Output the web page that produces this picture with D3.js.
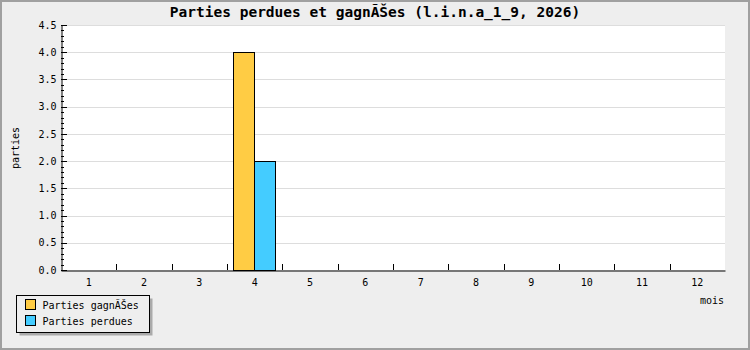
<!DOCTYPE html>
<html>
<head>
<meta charset="utf-8">
<script src="https://cdn.jsdelivr.net/npm/d3@7"></script>
<style>
  body { margin: 0; background: #fff; }
  text { font-family: "DejaVu Sans Mono", monospace; }
</style>
</head>
<body>
<svg id="chart" width="750" height="350"></svg>
<script>
const months = ["1", "2", "3", "4", "5", "6", "7", "8", "9", "10", "11", "12"];
const gagnees = [0, 0, 0, 4, 0, 0, 0, 0, 0, 0, 0, 0];
const perdues = [0, 0, 0, 2, 0, 0, 0, 0, 0, 0, 0, 0];
const yTicks = [0, 0.5, 1, 1.5, 2, 2.5, 3, 3.5, 4, 4.5];
const series = [
  { name: "Parties gagnÃŠes", values: gagnees, color: "#ffcc44" },
  { name: "Parties perdues", values: perdues, color: "#44ccff" }
];

const svg = d3.select("#chart");
const margin = { top: 25, right: 25, bottom: 80, left: 61 };
const W = 750, H = 350;

// background + frame
svg.append("rect").attr("width", W).attr("height", H).attr("fill", "#eeeeee");
svg.append("rect").attr("x", 1).attr("y", 1).attr("width", W - 2).attr("height", H - 2)
  .attr("fill", "none").attr("stroke", "#a0a0a0").attr("stroke-width", 2);

const x = d3.scaleBand().domain(months).range([margin.left, W - margin.right]);
const y = d3.scaleLinear().domain([0, 4.5]).range([H - margin.bottom, margin.top]);

svg.append("rect")
  .attr("x", margin.left).attr("y", margin.top)
  .attr("width", W - margin.left - margin.right)
  .attr("height", H - margin.top - margin.bottom)
  .attr("fill", "#fff");

// grid
svg.append("g").selectAll("line").data(yTicks.slice(1)).join("line")
  .attr("x1", margin.left).attr("x2", W - margin.right)
  .attr("y1", d => Math.round(y(d)) + 0.5).attr("y2", d => Math.round(y(d)) + 0.5)
  .attr("stroke", "#dddddd");

// bars
const barW = 21;
series.forEach((s, i) => {
  svg.append("g").selectAll("rect").data(s.values.map((v, j) => ({ v, m: months[j] })))
    .join("rect")
    .filter(d => d.v > 0)
    .attr("x", d => Math.floor(x(d.m) + x.bandwidth() / 2 - barW + i * barW) + 0.5)
    .attr("y", d => Math.round(y(d.v)) + 0.5)
    .attr("width", barW)
    .attr("height", d => Math.round(y(0)) - Math.round(y(d.v)))
    .attr("fill", s.color)
    .attr("stroke", "#000");
});

// y axis
const yAxis = d3.axisLeft(y).tickValues(yTicks).tickFormat(d3.format(".1f")).tickSize(0).tickPadding(5);
const gy = svg.append("g").attr("transform", `translate(${margin.left + 0.5},0)`).call(yAxis);
gy.select(".domain").attr("stroke", "#000");
gy.selectAll("text").attr("font-size", 10).attr("fill", "#000");
// inner ticks
const minor = d3.range(0, 46).map(d => d / 10);
svg.append("g").selectAll("line").data(minor).join("line")
  .attr("x1", margin.left)
  .attr("x2", d => margin.left + (Math.round(d * 10) % 5 === 0 ? 6 : 3))
  .attr("y1", d => Math.round(y(d)) + 0.5).attr("y2", d => Math.round(y(d)) + 0.5)
  .attr("stroke", "#000");

// x axis
const xAxis = d3.axisBottom(x).tickSize(0).tickPadding(8);
const gx = svg.append("g").attr("transform", `translate(0,${H - margin.bottom + 0.5})`).call(xAxis);
gx.select(".domain").attr("stroke", "#000");
gx.selectAll("text").attr("font-size", 10).attr("fill", "#000");
svg.append("g").selectAll("line").data(months.slice(1)).join("line")
  .attr("x1", d => Math.round(x(d)) + 0.5).attr("x2", d => Math.round(x(d)) + 0.5)
  .attr("y1", y(0)).attr("y2", y(0) - 6)
  .attr("stroke", "#000");

// titles
svg.append("text").attr("x", W / 2).attr("y", 17).attr("text-anchor", "middle")
  .attr("font-size", 14.5).attr("font-weight", "bold")
  .text("Parties perdues et gagnÃŠes (l.i.n.a_1_9, 2026)");
svg.append("text").attr("x", W - margin.right - 1).attr("y", 304).attr("text-anchor", "end")
  .attr("font-size", 10).text("mois");
svg.append("text").attr("transform", "translate(19,148) rotate(-90)").attr("text-anchor", "middle")
  .attr("font-size", 10).text("parties");

// legend
const lg = svg.append("g").attr("transform", "translate(16.5,295.5)");
lg.append("rect").attr("x", 3).attr("y", 3).attr("width", 133).attr("height", 37).attr("fill", "#aaaaaa");
lg.append("rect").attr("width", 133).attr("height", 37).attr("fill", "#eeeeee").attr("stroke", "#000");
series.forEach((s, i) => {
  lg.append("rect").attr("x", 9).attr("y", 4 + i * 16).attr("width", 10).attr("height", 10)
    .attr("fill", s.color).attr("stroke", "#000");
  lg.append("text").attr("x", 26).attr("y", 13 + i * 16).attr("font-size", 10).text(s.name);
});
</script>
</body>
</html>
